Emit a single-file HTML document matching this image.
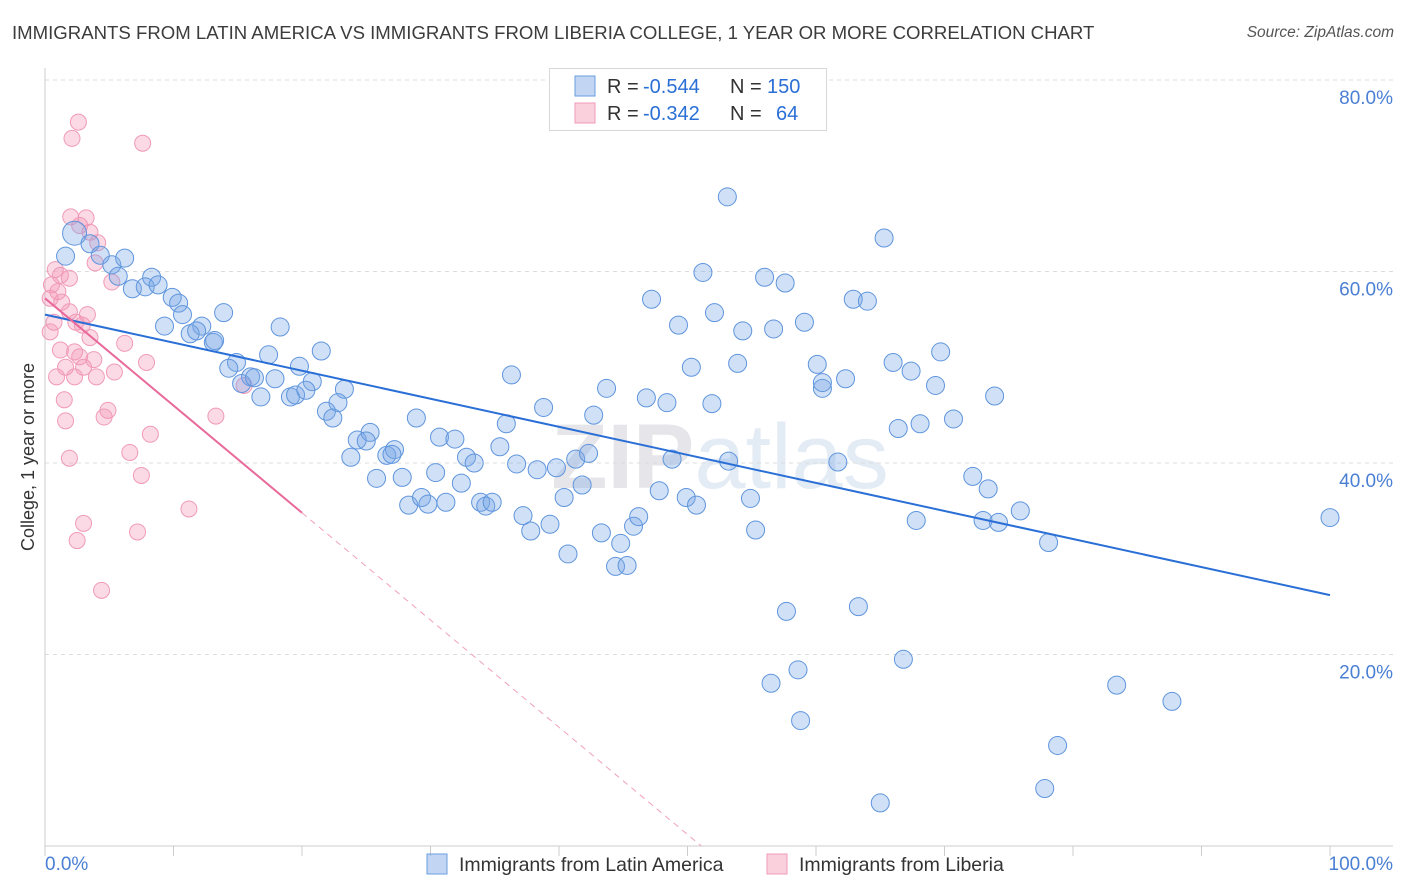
<!DOCTYPE html>
<html><head><meta charset="utf-8">
<style>
body{margin:0;background:#fff;font-family:"Liberation Sans",sans-serif;}
#wrap{position:relative;width:1406px;height:892px;overflow:hidden;}
.t{position:absolute;white-space:nowrap;}
</style></head>
<body>
<div id="wrap">
<div class="t" style="left:12px;top:22px;font-size:18.6px;color:#3c3c3c;">IMMIGRANTS FROM LATIN AMERICA VS IMMIGRANTS FROM LIBERIA COLLEGE, 1 YEAR OR MORE CORRELATION CHART</div>
<div class="t" style="right:12px;top:24px;font-size:15.5px;color:#555;font-style:italic;">Source: ZipAtlas.com</div>
<svg id="svg" width="1406" height="892" style="position:absolute;left:0;top:0"></svg>
</div>
<script>
const yTicks=[20,40,60,80];
const xTickVals=[0,10,20,30,40,50,60,70,80,90,100];
const blueX=[2.3,1.6,3.5,4.3,5.2,6.2,5.7,8.3,6.8,7.8,8.8,9.9,10.4,10.7,9.3,12.2,13.9,11.3,11.8,13.1,13.2,14.9,14.3,15.3,16.0,16.3,16.8,17.4,18.3,17.9,19.1,19.5,19.8,20.8,20.3,21.5,23.3,22.8,21.9,22.4,24.3,25.3,23.8,25.0,26.6,27.2,27.0,25.8,27.8,28.9,30.7,31.9,30.4,28.3,29.3,29.8,31.2,32.4,32.8,33.4,33.9,34.3,34.8,35.4,35.9,36.3,36.7,37.2,37.8,38.3,38.8,39.3,39.8,40.4,40.7,41.3,41.8,42.3,42.7,43.3,43.7,44.4,44.8,45.3,45.8,46.2,46.8,47.2,47.8,48.4,48.8,49.3,49.9,50.3,50.7,51.2,51.9,52.1,53.2,53.1,53.9,54.3,54.9,55.3,56.0,56.7,57.6,57.7,56.5,58.6,58.8,59.1,60.1,60.5,60.5,61.7,62.3,62.9,63.3,64.0,65.0,65.3,66.0,66.4,66.8,67.4,67.8,68.1,69.3,69.7,70.7,72.2,73.0,73.4,73.9,74.2,75.9,78.1,78.8,77.8,83.4,87.7,100];
const blueY=[64.0,61.6,62.9,61.7,60.7,61.4,59.5,59.4,58.2,58.4,58.6,57.3,56.7,55.5,54.3,54.3,55.7,53.5,53.8,52.6,52.8,50.5,49.9,48.3,49.0,48.9,46.9,51.3,54.2,48.8,46.9,47.1,50.1,48.5,47.6,51.7,47.7,46.3,45.4,44.7,42.4,43.2,40.6,42.3,40.8,41.4,40.9,38.4,38.5,44.7,42.7,42.5,39.0,35.6,36.4,35.7,35.9,37.9,40.6,40.0,35.9,35.5,35.9,41.7,44.1,49.2,39.9,34.5,32.9,39.3,45.8,33.6,39.5,36.4,30.5,40.4,37.7,41.0,45.0,32.7,47.8,29.2,31.6,29.3,33.4,34.4,46.8,57.1,37.1,46.3,40.4,54.4,36.4,50.0,35.6,59.9,46.2,55.7,40.2,67.8,50.4,53.8,36.3,33.0,59.4,54.0,58.8,24.5,17.0,18.4,13.1,54.7,50.3,47.8,48.4,40.1,48.8,57.1,25.0,56.9,4.5,63.5,50.5,43.6,19.5,49.6,34.0,44.1,48.1,51.6,44.6,38.6,34.0,37.3,47.0,33.8,35.0,31.7,10.5,6.0,16.8,15.1,34.3];
const pinkX=[2.6,2.1,7.6,2.0,3.2,2.7,3.5,4.1,3.9,0.8,1.2,1.9,5.2,0.5,1.0,0.4,1.3,1.9,3.3,0.7,2.4,2.9,0.4,3.5,6.2,1.2,2.3,2.7,1.6,3.0,3.8,7.9,5.4,0.9,2.3,4.0,15.5,1.5,4.9,4.6,13.3,1.6,8.2,6.6,1.9,7.5,11.2,3.0,7.2,2.5,4.4];
const pinkY=[75.6,73.9,73.4,65.7,65.6,64.8,64.1,63.0,60.9,60.2,59.6,59.3,58.9,58.6,57.9,57.2,56.8,55.8,55.5,54.7,54.7,54.4,53.7,53.1,52.5,51.8,51.6,51.1,50.0,50.0,50.8,50.5,49.5,49.0,49.0,49.0,48.1,46.6,45.5,44.8,44.9,44.4,43.0,41.1,40.5,38.7,35.2,33.7,32.8,31.9,26.7];
const blueTrend=[55.5,26.2];
const pinkTrend=[57.2,34.8];

const X0=45,X1=1330,Y0=846,YS=9.575;
const sx=v=>X0+(X1-X0)*v/100;
const sy=v=>Y0-v*YS;
const svg=document.getElementById('svg');
const NS='http://www.w3.org/2000/svg';
function mk(tag,attrs,parent){const e=document.createElementNS(NS,tag);for(const k in attrs)e.setAttribute(k,attrs[k]);(parent||svg).appendChild(e);return e;}

let wm=mk('text',{x:720,y:488,'text-anchor':'middle','font-size':'92','font-family':'Liberation Sans, sans-serif',fill:'#e3ebf5'});


wm.innerHTML='<tspan font-weight="bold" fill="#e6e6ea">ZIP</tspan>atlas';

yTicks.forEach(v=>{
  const g=mk('line',{x1:X0,x2:1393,y1:sy(v),y2:sy(v),stroke:'#dcdcdc','stroke-dasharray':'4,4'});
  
  
  const t=mk('text',{x:1393,y:sy(v)+24,'text-anchor':'end','font-size':'19','font-family':'Liberation Sans, sans-serif',fill:'#4a7fd4'});
  t.textContent=v.toFixed(1)+'%';
  
  
});
let ax=mk('line',{x1:X0,x2:X0,y1:68,y2:Y0,stroke:'#ccc'});


let bx=mk('line',{x1:X0,x2:1393,y1:Y0,y2:Y0,stroke:'#ccc'});


xTickVals.forEach(v=>{
  const l=mk('line',{x1:sx(v),x2:sx(v),y1:Y0,y2:Y0+10,stroke:'#ccc'});
  
  
});
[[0,'start','0.0%',45],[100,'end','100.0%',1393]].forEach(a=>{
  const t=mk('text',{x:a[3],y:870,'text-anchor':a[1],'font-size':'19','font-family':'Liberation Sans, sans-serif',fill:'#4a7fd4'});
  t.textContent=a[2];
  
  
});
let yt=mk('text',{x:34,y:457,'text-anchor':'middle','font-size':'18','font-family':'Liberation Sans, sans-serif',fill:'#333',transform:'rotate(-90 34 457)'});
yt.textContent='College, 1 year or more';



pinkX.forEach((x,i)=>{
  const c=mk('circle',{cx:sx(x),cy:sy(pinkY[i]),r:8,fill:'rgba(244,150,180,0.35)',stroke:'#f09ab8','stroke-width':1});
  
  
});
blueX.forEach((x,i)=>{
  const c=mk('circle',{cx:sx(x),cy:sy(blueY[i]),r:i==0?12:9,fill:'rgba(120,165,230,0.35)',stroke:'#5f95dd','stroke-width':1});
  
  
});
let bl=mk('line',{x1:sx(0),y1:sy(blueTrend[0]),x2:sx(100),y2:sy(blueTrend[1]),stroke:'#2a6fd6','stroke-width':2});


const pSlope=(pinkTrend[1]-pinkTrend[0])/20;
const pZero=-pinkTrend[0]/pSlope;
let pl=mk('line',{x1:sx(0),y1:sy(pinkTrend[0]),x2:sx(20),y2:sy(pinkTrend[1]),stroke:'#e8699a','stroke-width':2});


let pd=mk('line',{x1:sx(20),y1:sy(pinkTrend[1]),x2:sx(pZero),y2:sy(0),stroke:'#f0a0bc','stroke-width':1,'stroke-dasharray':'6,5'});



let lg=mk('rect',{x:549.5,y:68.5,width:277,height:62,fill:'#fff',stroke:'#d8d8d8'});


[[86,'rgba(120,165,230,0.45)','#6a9de0','-0.544','150',767],[113,'rgba(244,150,180,0.45)','#f09ab8','-0.342','64',776]].forEach(r=>{
  const s=mk('rect',{x:575,y:r[0]-10,width:20,height:20,fill:r[1],stroke:r[2]});
  
  
  const f={'font-size':'20','font-family':'Liberation Sans, sans-serif'};
  const a=mk('text',Object.assign({x:607,y:r[0]+7,fill:'#333'},f));a.textContent='R =';
  
  
  const b=mk('text',Object.assign({x:643,y:r[0]+7,fill:'#2a6fd6'},f));b.textContent=r[3];
  
  
  const c=mk('text',Object.assign({x:730,y:r[0]+7,fill:'#333'},f));c.textContent='N =';
  
  
  const d=mk('text',Object.assign({x:r[5],y:r[0]+7,fill:'#2a6fd6'},f));d.textContent=r[4];
  
  
});
[[427,'rgba(120,165,230,0.45)','#6a9de0','Immigrants from Latin America'],[767,'rgba(244,150,180,0.45)','#f09ab8','Immigrants from Liberia']].forEach(r=>{
  const s=mk('rect',{x:r[0],y:854,width:20,height:20,fill:r[1],stroke:r[2]});
  
  
  const t=mk('text',{x:r[0]+32,y:871,'font-size':'19.5','font-family':'Liberation Sans, sans-serif',fill:'#333'});
  t.textContent=r[3];
  
  
});
</script>
</body></html>
